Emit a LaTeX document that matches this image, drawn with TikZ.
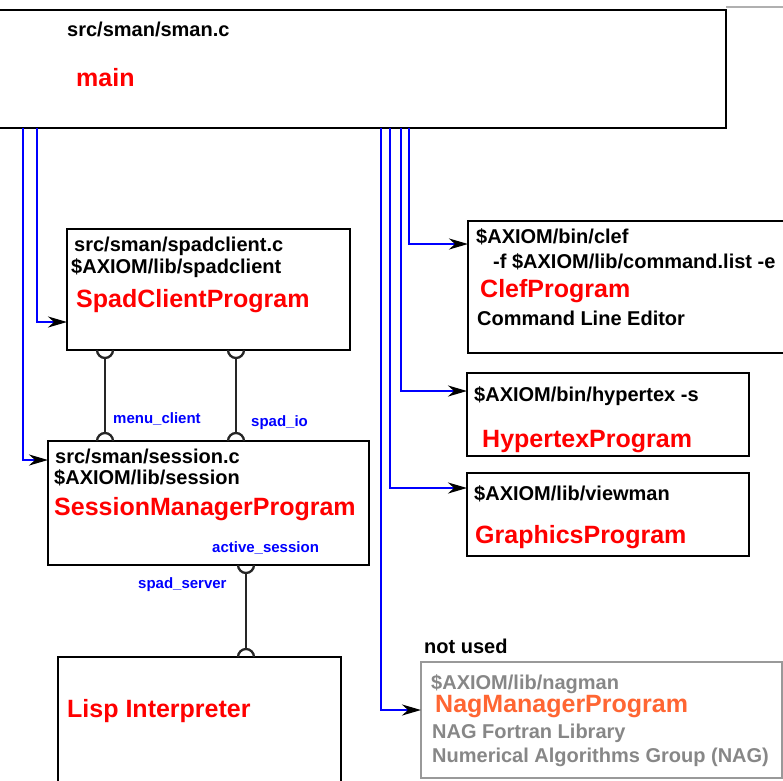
\documentclass[tikz,border=0pt]{standalone}
\usepackage{fontspec}
\setmainfont{Liberation Sans}
\usetikzlibrary{arrows.meta,calc}
\definecolor{nagorange}{HTML}{FF6633}
\definecolor{txtgray}{HTML}{878787}
\definecolor{boxgray}{HTML}{999999}
\definecolor{linegray}{HTML}{B0B0B0}
\newcommand\socklink[2]{%
  \draw[sock] ($(#1)+(-8pt,0pt)$) arc[start angle=180,end angle=360,radius=8pt];
  \draw[sock] ($(#2)+(-8pt,0pt)$) arc[start angle=180,end angle=0,radius=8pt];
  \draw[sock] ($(#1)+(0pt,-8pt)$) -- ($(#2)+(0pt,8pt)$);}
\begin{document}
\begin{tikzpicture}[x=1pt,y=-1pt,
  box/.style={draw=black,line width=2.8pt,inner sep=0pt,outer sep=0pt,anchor=north west,fill=white},
  graybox/.style={box,draw=boxgray,line width=2pt},
  txt/.style={anchor=base west,inner sep=0pt,font=\bfseries\fontsize{20}{24}\selectfont},
  redtxt/.style={txt,text=red,font=\bfseries\fontsize{25}{30}\selectfont},
  lbl/.style={txt,text=blue,font=\bfseries\fontsize{15}{18}\selectfont},
  flow/.style={draw=blue,line width=2.3pt,-{Stealth[length=19pt,width=11pt,inset=6pt,color=black]}},
  sock/.style={draw=black!85,line width=2.3pt}]
\useasboundingbox (0,0) rectangle (783,780);
\clip (0,0) rectangle (783,780);
\fill[white] (0,0) rectangle (783,780);

% boxes
\node[box,minimum width=736pt,minimum height=118pt] (main) at (-10,10) {};
\node[box,minimum width=283pt,minimum height=121pt] (spadclient) at (67,229) {};
\node[box,minimum width=321pt,minimum height=124pt] (session) at (48,441) {};
\node[box,minimum width=283pt,minimum height=140pt] (lisp) at (58,657) {};
\node[box,minimum width=330pt,minimum height=132pt] (clef) at (468,221) {};
\node[box,minimum width=282pt,minimum height=83pt] (hypertex) at (467,373) {};
\node[box,minimum width=282pt,minimum height=83pt] (graphics) at (467,473) {};
\node[graybox,minimum width=361pt,minimum height=116pt] (nag) at (421,662) {};

\draw[linegray,line width=1.5pt] (main.north east |- 0,7) -- (790,7);

% texts
\node[txt] (t1) at (67,36) {src/sman/sman.c};
\node[redtxt] (t2) at (76,86) {main};

\node[txt] (t3) at (74,251) {src/sman/spadclient.c};
\node[txt] (t4) at (71,273) {\$AXIOM/lib/spadclient};
\node[redtxt] (t5) at (76,307) {SpadClientProgram};

\node[txt] (t6) at (55,463) {src/sman/session.c};
\node[txt] (t7) at (54,484) {\$AXIOM/lib/session};
\node[redtxt] (t8) at (54,515) {SessionManagerProgram};
\node[lbl] (t9) at (212,552) {active\_session};

\node[lbl] (l1) at (113,423) {menu\_client};
\node[lbl] (l2) at (251,426) {spad\_io};
\node[lbl] (l3) at (138,588) {spad\_server};

\node[redtxt] (t10) at (67,717) {Lisp Interpreter};

\node[txt] (c1) at (476,243) {\$AXIOM/bin/clef};
\node[txt] (c2) at (493,268) {-f \$AXIOM/lib/command.list -e};
\node[redtxt] (c3) at (480,297) {ClefProgram};
\node[txt] (c4) at (477,325) {Command Line Editor};

\node[txt] (h1) at (474,401) {\$AXIOM/bin/hypertex -s};
\node[redtxt] (h2) at (482,447) {HypertexProgram};

\node[txt] (g1) at (474,500) {\$AXIOM/lib/viewman};
\node[redtxt] (g2) at (475,543) {GraphicsProgram};

\node[txt] (n0) at (424,653) {not used};
\node[txt,text=txtgray] (n1) at (431,689) {\$AXIOM/lib/nagman};
\node[redtxt,text=nagorange] (n2) at (435,712) {NagManagerProgram};
\node[txt,text=txtgray] (n3) at (432,738) {NAG Fortran Library};
\node[txt,text=txtgray] (n4) at (432,762) {Numerical Algorithms Group (NAG)};

% blue flows
\draw[flow] (23,0 |- main.south) |- (session.west |- 0,460);
\draw[flow] (37,0 |- main.south) |- (spadclient.west |- 0,322);
\draw[flow] (381,0 |- main.south) |- (nag.west |- 0,710);
\draw[flow] (390,0 |- main.south) |- (graphics.west |- 0,488);
\draw[flow] (401,0 |- main.south) |- (hypertex.west |- 0,391);
\draw[flow] (409,0 |- main.south) |- (clef.west |- 0,244);

% socket links
\coordinate (mcA) at (105,0 |- spadclient.south);
\coordinate (mcB) at (105,0 |- session.north);
\coordinate (sioA) at (236,0 |- spadclient.south);
\coordinate (sioB) at (236,0 |- session.north);
\coordinate (ssA) at (246,0 |- session.south);
\coordinate (ssB) at (246,0 |- lisp.north);
\socklink{mcA}{mcB}
\socklink{sioA}{sioB}
\socklink{ssA}{ssB}
\end{tikzpicture}
\end{document}
